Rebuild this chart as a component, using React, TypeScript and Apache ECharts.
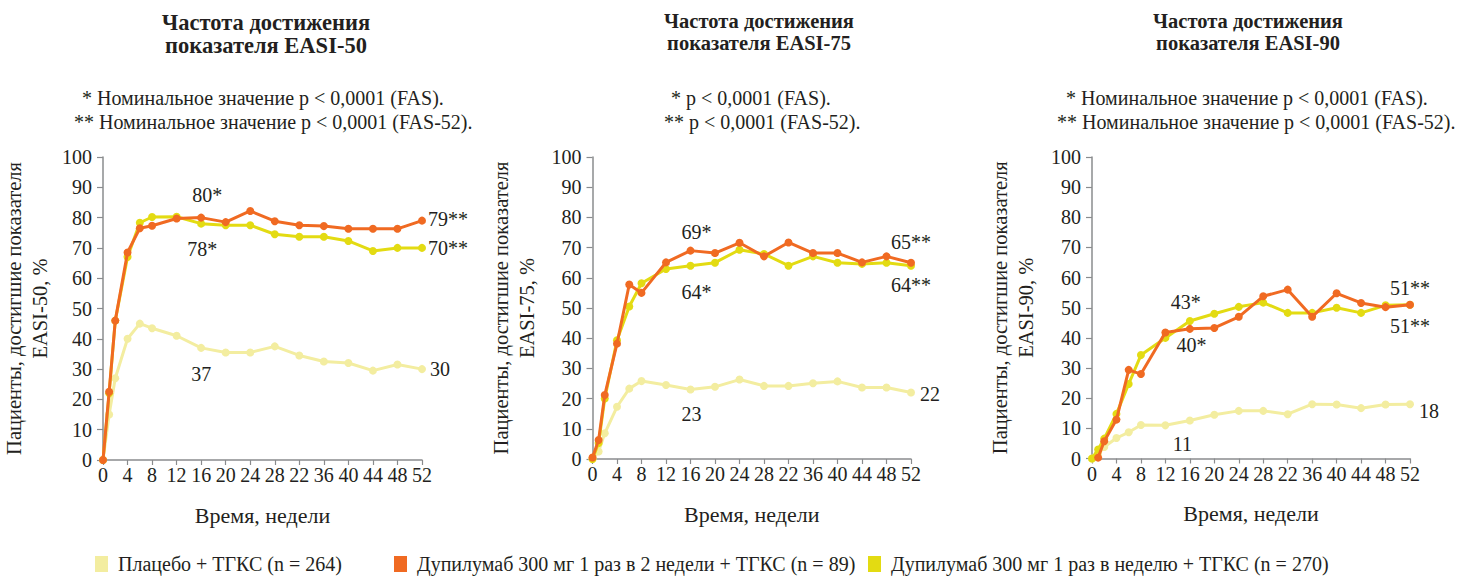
import React, { useEffect, useRef } from "react";
import * as echarts from "echarts";

// Visit weeks and x-axis tick labels (as printed on the source figure)
const weeks = [0, 1, 2, 4, 6, 8, 12, 16, 20, 24, 28, 32, 36, 40, 44, 48, 52];
const xTickLabels = ["0", "4", "8", "12", "16", "20", "24", "28", "22", "36", "40", "44", "48", "52"];

const seriesNames = [
  "Плацебо + ТГКС (n = 264)",
  "Дупилумаб 300 мг 1 раз в 2 недели + ТГКС (n = 89)",
  "Дупилумаб 300 мг 1 раз в неделю + ТГКС (n = 270)",
];

// EASI-50, %
const easi50Placebo = [0, 15, 27, 40, 45, 43.5, 41, 37, 35.5, 35.5, 37.5, 34.5, 32.5, 32, 29.5, 31.5, 30];
const easi50Q2w = [0, 22.5, 46, 68.5, 76.5, 77.3, 79.7, 80, 78.5, 82.2, 78.8, 77.5, 77.2, 76.3, 76.3, 76.3, 79];
const easi50Qw = [0, 22, 46, 67, 78.3, 80.2, 80.3, 78, 77.5, 77.5, 74.5, 73.7, 73.7, 72.3, 69, 70, 70];

// EASI-75, %
const easi75Placebo = [0, 2.5, 8.5, 17.3, 23.3, 25.8, 24.5, 23, 23.9, 26.3, 24.2, 24.2, 25.1, 25.7, 23.7, 23.7, 22];
const easi75Q2w = [0.5, 6.3, 21.2, 38.2, 57.8, 55, 65.1, 69, 68.2, 71.6, 67.1, 71.7, 68.2, 68.2, 65.1, 67.1, 65];
const easi75Qw = [0, 5.3, 20, 39.3, 50.5, 58.2, 62.9, 64, 65, 69.3, 67.9, 64, 67.1, 65, 64.6, 65, 64];

// EASI-90, %
const easi90Placebo = [0, 1.5, 3.8, 6.8, 8.7, 11.1, 11, 12.6, 14.5, 15.8, 15.8, 14.7, 18, 17.9, 16.7, 17.9, 18];
const easi90Q2w = [null, 0.3, 5.7, 12.9, 29.4, 28, 41.8, 43, 43.3, 47, 53.8, 56, 47, 54.8, 51.6, 50.2, 51];
const easi90Qw = [0, 3, 6.6, 14.8, 24.7, 34.3, 40, 45.6, 48, 50.3, 51.7, 48.3, 48.3, 50, 48.3, 50.8, 51];

const colors = ["#F3EDA0", "#F06A22", "#E3DB12"];
const textColor = "#231f20";
const axisColor = "#8a8c8e";
const FONT = "Liberation Serif";

type Panel = {
  metric: string;
  values: (number | null)[][];
  grid: { left: number; top: number; width: number; height: number };
  nameGap: number;
  titleX: number;
  titleSize: number;
  titleY: [number, number];
  notes: { text: string; x: number; y: number }[];
  // [series, week index, suffix, position, offset]
  marks: [number, number, string, string, [number, number]][];
};

const panels: Panel[] = [
  {
    metric: "EASI-50",
    values: [easi50Placebo, easi50Q2w, easi50Qw],
    grid: { left: 103, top: 157, width: 319, height: 303 },
    nameGap: 50,
    titleX: 266,
    titleSize: 22.5,
    titleY: [22, 45],
    notes: [
      { text: "* Номинальное значение p < 0,0001 (FAS).", x: 82, y: 98 },
      { text: "** Номинальное значение p < 0,0001 (FAS-52).", x: 74, y: 122 },
    ],
    marks: [
      [1, 7, "*", "top", [6, -4]],
      [2, 7, "*", "bottom", [1, 6]],
      [1, 16, "**", "right", [-3, -2]],
      [2, 16, "**", "right", [-3, 0]],
      [0, 7, "", "bottom", [0, 7]],
      [0, 16, "", "right", [-1, 0]],
    ],
  },
  {
    metric: "EASI-75",
    values: [easi75Placebo, easi75Q2w, easi75Qw],
    grid: { left: 592.5, top: 157, width: 318.5, height: 302 },
    nameGap: 52.5,
    titleX: 759,
    titleSize: 20.5,
    titleY: [21, 43],
    notes: [
      { text: "* p < 0,0001 (FAS).", x: 671, y: 98 },
      { text: "** p < 0,0001 (FAS-52).", x: 664, y: 122 },
    ],
    marks: [
      [1, 7, "*", "top", [6, 0]],
      [2, 7, "*", "bottom", [6, 7]],
      [1, 16, "**", "top", [0, -2]],
      [2, 16, "**", "bottom", [0, 0]],
      [0, 7, "", "bottom", [1, 5]],
      [0, 16, "", "right", [0, 1]],
    ],
  },
  {
    metric: "EASI-90",
    values: [easi90Placebo, easi90Q2w, easi90Qw],
    grid: { left: 1092, top: 157, width: 318, height: 301.5 },
    nameGap: 53,
    titleX: 1248,
    titleSize: 20.5,
    titleY: [21, 43],
    notes: [
      { text: "* Номинальное значение p < 0,0001 (FAS).", x: 1066, y: 98 },
      { text: "** Номинальное значение p < 0,0001 (FAS-52).", x: 1057, y: 122 },
    ],
    marks: [
      [1, 7, "*", "top", [-4, -8]],
      [2, 6, "*", "right", [2, 7]],
      [2, 16, "**", "top", [0, 2]],
      [1, 16, "**", "bottom", [0, 2]],
      [0, 16, "", "right", [0, 7]],
      [0, 6, "", "bottom", [17, 0]],
    ],
  },
];

function buildOption() {
  const grid: any[] = [];
  const xAxis: any[] = [];
  const yAxis: any[] = [];
  const series: any[] = [];
  const graphic: any[] = [];

  panels.forEach((p, pi) => {
    grid.push({ ...p.grid, containLabel: false, outerBoundsMode: "none" });
    xAxis.push({
      type: "value",
      gridIndex: pi,
      min: 0,
      max: 52,
      interval: 4,
      name: "Время, недели",
      nameLocation: "middle",
      nameGap: 44,
      nameTextStyle: { fontSize: 22, fontFamily: FONT, color: textColor },
      axisLine: { show: true, onZero: false, lineStyle: { color: axisColor, width: 1.5 } },
      axisTick: { show: true, length: 5, lineStyle: { color: axisColor, width: 1.2 } },
      axisLabel: {
        fontSize: 20,
        fontFamily: FONT,
        color: textColor,
        margin: 5,
        formatter: (v: number) => xTickLabels[Math.round(v / 4)] ?? "",
      },
      splitLine: { show: false },
    });
    yAxis.push({
      type: "value",
      gridIndex: pi,
      min: 0,
      max: 100,
      interval: 10,
      name: "Пациенты, достигшие показателя\n" + p.metric + ", %",
      nameLocation: "middle",
      nameRotate: 90,
      nameGap: p.nameGap,
      nameTextStyle: { fontSize: 20.5, fontFamily: FONT, color: textColor, lineHeight: 26 },
      axisLine: { show: true, lineStyle: { color: axisColor, width: 1.5 } },
      axisTick: { show: true, length: 6, lineStyle: { color: axisColor, width: 1.2 } },
      axisLabel: { fontSize: 20, fontFamily: FONT, color: textColor, margin: 11 },
      splitLine: { show: false },
    });

    // draw order: placebo, weekly, every 2 weeks on top
    [0, 2, 1].forEach((si, order) => {
      const vals = p.values[si];
      const data = weeks.map((w, k) => {
        const v = vals[k];
        if (v === null) return [w, "-"];
        const mark = p.marks.find((m) => m[0] === si && m[1] === k);
        if (!mark) return [w, v];
        return {
          value: [w, v],
          label: {
            show: true,
            position: mark[3],
            offset: mark[4],
            distance: 5,
            formatter: () => Math.round(v) + mark[2],
            fontSize: 20,
            fontFamily: FONT,
            color: textColor,
          },
        };
      });
      series.push({
        type: "line",
        name: seriesNames[si],
        xAxisIndex: pi,
        yAxisIndex: pi,
        data,
        symbol: "circle",
        symbolSize: 8,
        showSymbol: true,
        connectNulls: false,
        lineStyle: { width: 3, color: colors[si] },
        itemStyle: { color: colors[si] },
        label: { show: false },
        emphasis: { disabled: true },
        z: 2 + order,
        silent: true,
      });
    });

    graphic.push(
      {
        type: "text",
        x: p.titleX,
        y: p.titleY[0],
        style: {
          text: "Частота достижения",
          fontSize: p.titleSize,
          fontWeight: "bold",
          fontFamily: FONT,
          fill: textColor,
          align: "center",
          verticalAlign: "middle",
        },
      },
      {
        type: "text",
        x: p.titleX,
        y: p.titleY[1],
        style: {
          text: "показателя " + p.metric,
          fontSize: p.titleSize,
          fontWeight: "bold",
          fontFamily: FONT,
          fill: textColor,
          align: "center",
          verticalAlign: "middle",
        },
      }
    );
    p.notes.forEach((n) =>
      graphic.push({
        type: "text",
        x: n.x,
        y: n.y,
        style: {
          text: n.text,
          fontSize: 20,
          fontFamily: FONT,
          fill: textColor,
          align: "left",
          verticalAlign: "middle",
        },
      })
    );
  });

  const legendLefts = [95, 394, 868];
  const legend = seriesNames.map((name, i) => ({
    data: [name],
    left: legendLefts[i],
    top: 554,
    padding: 0,
    icon: "rect",
    itemWidth: 13,
    itemHeight: 16,
    selectedMode: false,
    textStyle: { fontSize: 20, fontFamily: FONT, color: textColor, padding: [0, 0, 0, 5] },
  }));

  return {
    animation: false,
    backgroundColor: "#ffffff",
    color: colors,
    textStyle: { fontFamily: FONT },
    grid,
    xAxis,
    yAxis,
    series,
    legend,
    graphic,
  };
}

export default function App() {
  const ref = useRef<HTMLDivElement>(null);
  useEffect(() => {
    if (!ref.current) return;
    const chart = echarts.init(ref.current, undefined, { renderer: "svg" });
    chart.setOption(buildOption() as any);
    return () => chart.dispose();
  }, []);
  return (
    <>
      <style>{`#easi-chart svg text { font-family: "Liberation Serif", "Times New Roman", serif !important; }`}</style>
      <div
        id="easi-chart"
        ref={ref}
        style={{ position: "absolute", left: 0, top: 0, width: 1461, height: 577, background: "#fff" }}
      />
    </>
  );
}
